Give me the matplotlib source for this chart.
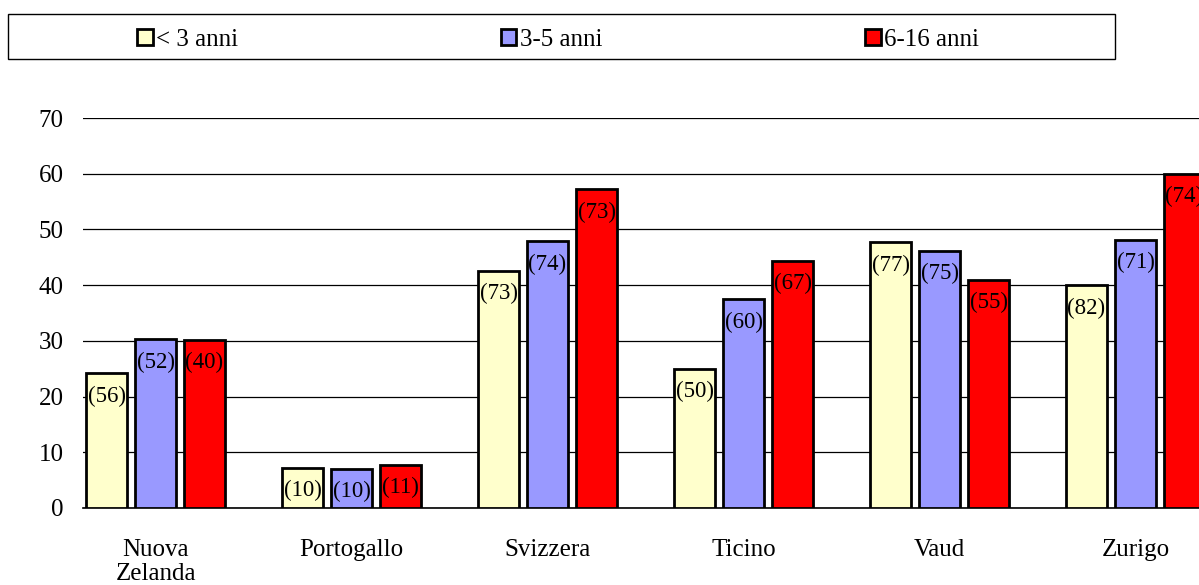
import matplotlib.pyplot as plt
import matplotlib.patches as mpatches
import numpy as np

plt.rcParams['font.family'] = ['Liberation Serif', 'DejaVu Serif']

# dati
paesi = ["Nuova\nZelanda", "Portogallo", "Svizzera", "Ticino", "Vaud", "Zurigo"]
serie = ["< 3 anni", "3-5 anni", "6-16 anni"]
meno3 = [24.2, 7.2, 42.6, 25.0, 47.7, 40.0]
da3a5 = [30.3, 7.05, 47.9, 37.5, 46.2, 48.1]
da6a16 = [30.2, 7.8, 57.2, 44.4, 41.0, 60.0]
n_meno3 = ["(56)", "(10)", "(73)", "(50)", "(77)", "(82)"]
n_da3a5 = ["(52)", "(10)", "(74)", "(60)", "(75)", "(71)"]
n_da6a16 = ["(40)", "(11)", "(73)", "(67)", "(55)", "(74)"]

colori = ["#FFFFCC", "#9999FF", "#FF0000"]

fig = plt.figure(figsize=(11.99, 5.85), dpi=100)
# l'asse esce a destra dalla figura (come nell'originale tagliato)
ax = fig.add_axes([83/1199, 77/585, 1176/1199, 390/585])

x = np.arange(len(paesi))
larg = 0.205
barre = []
for i, (vals, etich) in enumerate(zip([meno3, da3a5, da6a16], [n_meno3, n_da3a5, n_da6a16])):
    b = ax.bar(x + (i - 1) * 0.25, vals, larg, color=colori[i], edgecolor="black",
               linewidth=2, label=serie[i], zorder=3)
    barre.append(b)
    for rett, t in zip(b, etich):
        ax.annotate(t, (rett.get_x() + rett.get_width() / 2, rett.get_height()),
                    xytext=(0, -16.5), textcoords="offset points",
                    ha="center", va="center", fontsize=16.5, zorder=4)

ax.set_xlim(-0.37, 5.63)
ax.set_ylim(0, 70)
ax.set_yticks(range(0, 71, 10))
ax.set_xticks(x)
ax.set_xticklabels(paesi, linespacing=1.15)
ax.tick_params(axis="x", length=0, pad=22, labelsize=18)
ax.tick_params(axis="y", length=0, pad=14, labelsize=18)
ax.yaxis.grid(True, color="black", linewidth=0.9, zorder=0)
ax.axhline(0, color="black", linewidth=1.2, clip_on=False, zorder=2)
ax.set_axisbelow(True)
for s in ax.spines.values():
    s.set_visible(False)

# legenda in un riquadro in alto
fig.patches.append(mpatches.Rectangle((8/1199, 526/585), 1107/1199, 45/585,
                                      transform=fig.transFigure, fill=False,
                                      edgecolor="black", linewidth=1))
fig.legend(handles=barre, loc="center left", bbox_to_anchor=(137/1199, 545/585),
           ncol=3, frameon=False, fontsize=18, handlelength=0.62, handleheight=0.62,
           handletextpad=0.15, columnspacing=10.5, borderpad=0, borderaxespad=0)

fig.savefig("out.png", dpi=100)
